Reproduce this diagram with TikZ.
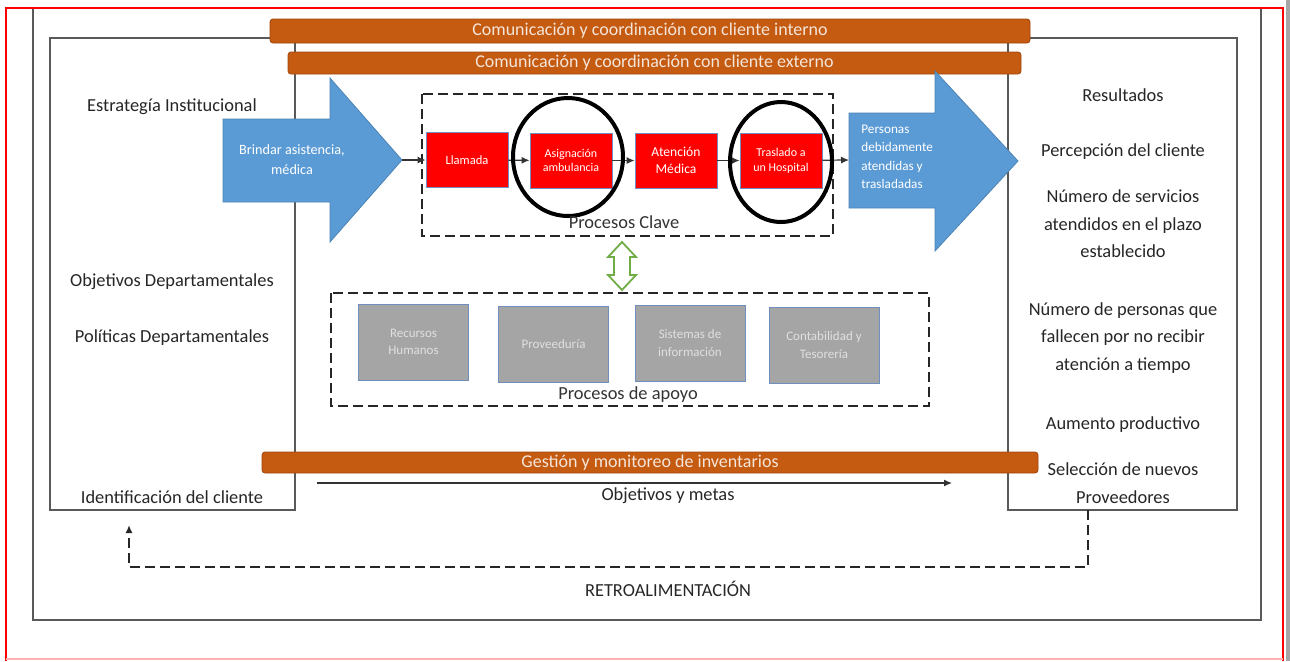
\documentclass[tikz,border=0pt]{standalone}
\usepackage{fontspec}
\setmainfont{Carlito}
\usetikzlibrary{shapes.geometric,arrows.meta}
\definecolor{barorange}{HTML}{C55A11}
\definecolor{bluearrow}{HTML}{5B9BD5}
\definecolor{boxred}{HTML}{FF0000}
\definecolor{supgray}{HTML}{A5A5A5}
\definecolor{edgeblue}{HTML}{6F8FBF}
\definecolor{framegray}{HTML}{595959}
\definecolor{arrowgreen}{HTML}{70AD47}
\definecolor{bartext}{HTML}{F4E6DA}
\begin{document}
\begin{tikzpicture}[x=0.5pt,y=-0.5pt,
  lbl/.style={font=\fontsize{9.2}{13.75}\selectfont, text=black!85, align=center, inner sep=0},
  obar/.style={fill=barorange, draw=barorange!80!black, line width=0.4pt, rounded corners=1.5pt,
    text=bartext, font=\fontsize{9}{10}\selectfont, inner sep=0},
  keyproc/.style={fill=boxred, draw=edgeblue, line width=0.4pt, text=white,
    font=\fontsize{6.3}{7.6}\selectfont, align=center, minimum width=41pt, minimum height=27.5pt, inner sep=0},
  supproc/.style={fill=supgray, draw=edgeblue, line width=0.4pt, text=white!88!black,
    font=\fontsize{6.5}{8.6}\selectfont, align=center, minimum width=55pt, minimum height=38pt, inner sep=0},
  panel/.style={draw=framegray, line width=0.8pt, inner sep=0},
  dashbox/.style={draw=black!85, line width=1.2pt, dash pattern=on 5pt off 2.5pt},
  flow/.style={-{Latex[length=4pt,width=3.5pt]}, line width=0.6pt, draw=black!80},
  ring/.style={ellipse, draw=black, line width=2pt, inner sep=0},
  blockarrow/.style={fill=bluearrow, draw=bluearrow!85!black, line width=0.4pt},
  arrowtext/.style={text=white, inner sep=0}]

% page
\fill[white] (0,0) rectangle (1290,661);
\useasboundingbox (0,0) rectangle (1290,661);

% outer frames
\draw[framegray, line width=0.8pt] (33,9) -- (33,620) -- (1261,620) -- (1261,9);
\draw[gray!70, line width=1.6pt] (1288,0) -- (1288,661);
\draw[red, line width=0.8pt] (6,661) -- (6,8) -- (1283,8) -- (1283,661);
\draw[red!30, line width=0.8pt] (6,659) -- (1283,659);

% side panels
\node[panel, minimum width=122.5pt, minimum height=236pt] (leftpanel) at (172.5,274) {};
\node[panel, minimum width=114.5pt, minimum height=236pt] (rightpanel) at (1122.5,274) {};

% communication bars
\node[obar, minimum width=380pt, minimum height=12pt] (interno) at (650,31)
  {Comunicación y coordinación con cliente interno};
\node[obar, minimum width=366.5pt, minimum height=11pt] (externo) at (654.5,63)
  {Comunicación y coordinación con cliente externo};

% left column labels
\node[lbl] (estrategia) at (172,107) {Estrategía Institucional};
\node[lbl] (objdep) at (172,282) {Objetivos Departamentales};
\node[lbl] (poldep) at (172,338) {Políticas Departamentales};
\node[lbl] (ident) at (172,497) {Identificación del cliente};

% right column labels
\node[lbl] (resultados) at (1123,95) {Resultados};
\node[lbl] (percepcion) at (1123,152) {Percepción del cliente};
\node[lbl] (servicios) at (1123,224) {Número de servicios\\atendidos en el plazo\\establecido};
\node[lbl] (personas) at (1123,338) {Número de personas que\\fallecen por no recibir\\atención a tiempo};
\node[lbl] (aumento) at (1123,425) {Aumento productivo};
\node[lbl] (seleccion) at (1123,483) {Selección de nuevos\\Proveedores};

% input block arrow
\draw[blockarrow] (223,119) -- (330,119) -- (330,78) -- (402,160) -- (330,242) -- (330,202) -- (223,202) -- cycle;
\coordinate (tipA) at (402,160);
\node[arrowtext, font=\fontsize{7.1}{10}\selectfont, align=center] (brindar) at (292,160)
  {Brindar asistencia,\\médica};

% output block arrow
\draw[blockarrow] (849,113) -- (935,113) -- (935,71) -- (1018,161) -- (935,251) -- (935,208) -- (849,208) -- cycle;
\coordinate (tailB) at (849,160);
\node[arrowtext, font=\fontsize{6.6}{9.2}\selectfont, align=left, anchor=west] (personasout) at (861,157)
  {Personas\\debidamente\\atendidas y\\trasladadas};

% key processes
\draw[dashbox] (422,94) rectangle (833,236);
\node[keyproc] (llamada) at (467,160) {Llamada};
\node[keyproc, font=\fontsize{6}{7.4}\selectfont] (asignacion) at (571,160.5) {Asignación\\ambulancia};
\node[keyproc, font=\fontsize{6.8}{8.4}\selectfont] (atencion) at (676,160.5) {Atención\\Médica};
\node[keyproc, font=\fontsize{6}{7.4}\selectfont] (traslado) at (781,160.5) {Traslado a\\un Hospital};
\draw[flow] (tipA) -- (llamada);
\draw[flow] (llamada) -- (asignacion);
\draw[flow] (asignacion) -- (atencion);
\draw[flow] (atencion) -- (traslado);
\draw[flow] (traslado) -- (tailB);
\node[ring, minimum width=55pt, minimum height=59pt] (ring1) at (568,157) {};
\node[ring, minimum width=51pt, minimum height=60pt] (ring2) at (781,162) {};
\node[lbl, text=black!80] (clave) at (624,222) {Procesos Clave};

% link between key and support processes
\draw[arrowgreen, line width=0.9pt, fill=white]
  (622,242) -- (636,257) -- (630,257) -- (630,275) -- (636,275) -- (622,290)
  -- (608,275) -- (614,275) -- (614,257) -- (608,257) -- cycle;

% support processes
\draw[dashbox] (331,293) rectangle (929,406);
\node[supproc] (rrhh) at (413.5,342) {Recursos\\Humanos};
\node[supproc] (proveeduria) at (553.5,344) {Proveeduría};
\node[supproc] (sistemas) at (690,343) {Sistemas de\\información};
\node[supproc] (contabilidad) at (824,345) {Contabilidad y\\Tesorería};
\node[lbl, text=black!80] (apoyo) at (628,395) {Procesos de apoyo};

% inventory bar and goals
\node[obar, minimum width=388pt, minimum height=10.5pt] (inventarios) at (650,462.5)
  {Gestión y monitoreo de inventarios};
\coordinate (goalA) at (317,483);
\coordinate (goalB) at (952,483);
\draw[flow] (goalA) -- (goalB);
\node[lbl] (metas) at (668,496) {Objetivos y metas};

% feedback loop
\coordinate (fbA) at (1088,510);
\coordinate (fbB) at (129,525);
\draw[line width=1.1pt, draw=black!85, dash pattern=on 5pt off 2.5pt, -{Latex[length=4pt,width=3.5pt]}]
  (fbA) -- ++(0,57) -| (fbB);
\node[lbl] (retro) at (668,589) {RETROALIMENTACIÓN};
\end{tikzpicture}
\end{document}
